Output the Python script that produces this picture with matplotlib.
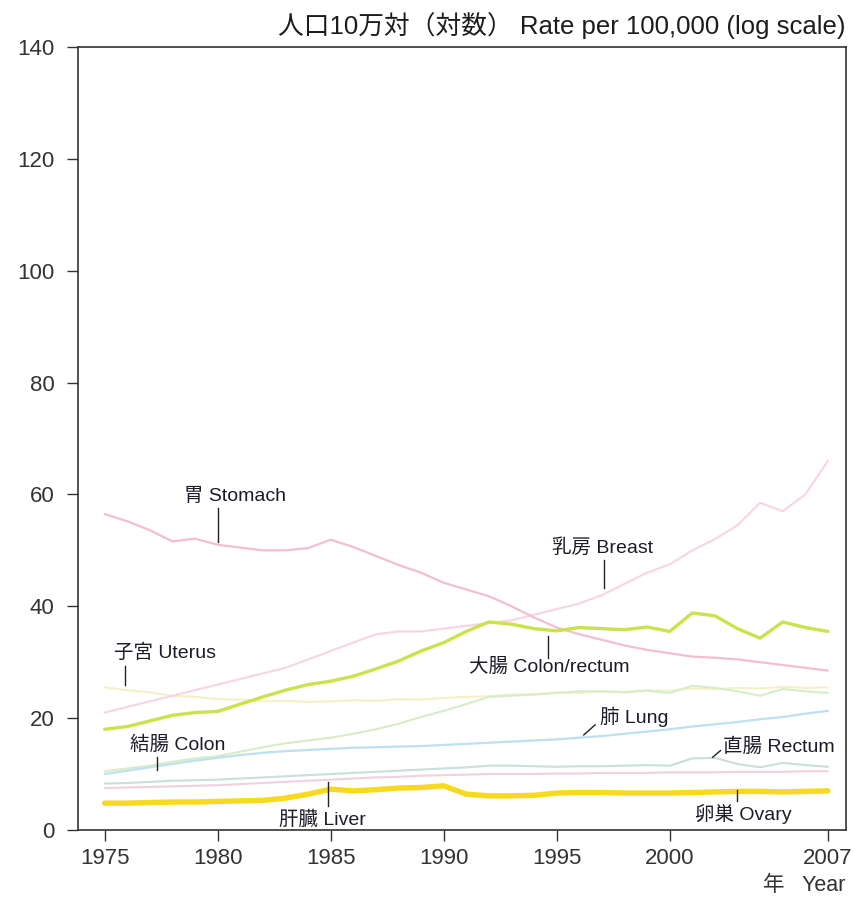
import matplotlib
matplotlib.use("Agg")
import matplotlib.pyplot as plt

plt.rcParams['font.family'] = ['Liberation Sans', 'Noto Sans CJK JP', 'DejaVu Sans']

years = list(range(1975, 2008))

stomach = [56.5, 55.2, 53.6, 51.6, 52.1, 51.0, 50.5, 50.0, 50.0, 50.4, 51.9, 50.6, 49.0,
           47.4, 46.0, 44.2, 43.0, 41.8, 40.0, 38.0, 36.2, 35.0, 34.0, 33.0, 32.2, 31.6,
           31.0, 30.8, 30.5, 30.0, 29.5, 29.0, 28.5]
breast = [21.0, 22.0, 23.0, 24.0, 25.0, 26.0, 27.0, 28.0, 29.0, 30.5, 32.0, 33.5, 35.0,
          35.5, 35.5, 36.0, 36.5, 37.0, 37.5, 38.5, 39.5, 40.5, 42.0, 44.0, 46.0, 47.5,
          50.0, 52.0, 54.5, 58.5, 57.0, 60.0, 66.0]
colorectum = [18.0, 18.5, 19.5, 20.5, 21.0, 21.2, 22.5, 23.8, 25.0, 26.0, 26.6, 27.5, 28.8,
              30.2, 32.0, 33.5, 35.5, 37.2, 36.8, 36.0, 35.6, 36.2, 36.0, 35.8, 36.3, 35.5,
              38.8, 38.3, 36.0, 34.3, 37.2, 36.2, 35.5]
uterus = [25.5, 25.0, 24.6, 24.0, 23.8, 23.4, 23.3, 23.0, 23.1, 22.9, 23.0, 23.2, 23.1,
          23.4, 23.3, 23.6, 23.8, 23.9, 24.2, 24.3, 24.6, 24.5, 24.8, 24.7, 25.0, 24.9,
          25.3, 25.2, 25.4, 25.3, 25.6, 25.4, 25.5]
colon = [10.5, 11.0, 11.5, 12.2, 12.8, 13.2, 14.0, 14.8, 15.5, 16.0, 16.5, 17.2, 18.0,
         19.0, 20.2, 21.3, 22.5, 23.8, 24.0, 24.2, 24.5, 24.8, 24.8, 24.6, 24.9, 24.5,
         25.8, 25.4, 24.8, 24.0, 25.2, 24.8, 24.5]
lung = [10.0, 10.6, 11.2, 11.8, 12.4, 12.9, 13.4, 13.8, 14.1, 14.3, 14.5, 14.7, 14.8,
        14.9, 15.0, 15.2, 15.4, 15.6, 15.8, 16.0, 16.2, 16.5, 16.8, 17.2, 17.6, 18.0,
        18.5, 18.9, 19.3, 19.8, 20.2, 20.8, 21.3]
rectum = [8.3, 8.4, 8.6, 8.8, 8.9, 9.0, 9.2, 9.4, 9.6, 9.8, 10.0, 10.2, 10.4, 10.6, 10.8,
          11.0, 11.2, 11.5, 11.5, 11.4, 11.3, 11.4, 11.4, 11.5, 11.6, 11.5, 12.8, 12.9,
          11.8, 11.2, 12.0, 11.6, 11.3]
ovary = [7.5, 7.6, 7.7, 7.8, 7.9, 8.0, 8.2, 8.4, 8.6, 8.8, 9.0, 9.2, 9.4, 9.5, 9.7, 9.8,
         9.9, 10.0, 10.0, 10.0, 10.1, 10.1, 10.2, 10.2, 10.2, 10.3, 10.3, 10.3, 10.4,
         10.4, 10.4, 10.5, 10.5]
liver = [4.8, 4.8, 4.9, 5.0, 5.0, 5.1, 5.2, 5.3, 5.7, 6.4, 7.3, 7.0, 7.2, 7.5, 7.6, 7.9,
         6.4, 6.1, 6.1, 6.2, 6.6, 6.7, 6.7, 6.6, 6.6, 6.6, 6.7, 6.8, 6.9, 6.9, 6.8, 6.9, 7.0]

xtick_years = [1975, 1980, 1985, 1990, 1995, 2000, 2007]
yticks = [0, 20, 40, 60, 80, 100, 120, 140]

title_text = "人口10万対（対数） Rate per 100,000 (log scale)"
xlabel_text = "年   Year"

series = [
    (uterus, '#f5f1c4', 1.5),
    (breast, '#f8d4e4', 1.5),
    (stomach, '#f2bed2', 1.6),
    (colon, '#d6edc8', 1.5),
    (lung, '#bde0f2', 1.6),
    (rectum, '#c8dfda', 1.5),
    (ovary, '#f3cfe2', 1.5),
    (colorectum, '#cbe24a', 2.4),
    (liver, '#f7da1e', 3.9),
]

# label text, text anchor (year, value), pointer start, pointer end
labels = [
    ("胃 Stomach", (1978.5, 59.6), (1980.0, 57.6), (1980.0, 51.5)),
    ("乳房 Breast", (1994.8, 50.4), (1997.1, 48.2), (1997.1, 43.2)),
    ("大腸 Colon/rectum", (1991.1, 29.1), (1994.6, 34.6), (1994.6, 30.8)),
    ("子宮 Uterus", (1975.4, 31.6), (1975.9, 29.4), (1975.9, 26.0)),
    ("結腸 Colon", (1976.1, 15.3), (1977.3, 13.0), (1977.3, 10.8)),
    ("肝臓 Liver", (1982.7, 1.9), (1984.9, 8.6), (1984.9, 4.2)),
    ("肺 Lung", (1996.9, 20.3), (1996.2, 17.0), (1996.7, 18.8)),
    ("直腸 Rectum", (2002.35, 14.9), (2001.9, 13.0), (2002.25, 14.2)),
    ("卵巣 Ovary", (2001.1, 2.8), (2003.0, 7.2), (2003.0, 5.2)),
]

fig = plt.figure(figsize=(8.54, 9.05), dpi=100)
ax = fig.add_axes([0.0913, 0.0829, 0.8993, 0.8651])

for vals, col, lw in series:
    ax.plot(years, vals, color=col, lw=lw, solid_capstyle='round', zorder=2)

for txt, pos, p0, p1 in labels:
    ax.text(pos[0], pos[1], txt, fontsize=14, color='#1c1c28', ha='left', va='center', zorder=4)
    ax.plot([p0[0], p1[0]], [p0[1], p1[1]], color='#222222', lw=1.0, zorder=3)

ax.set_xlim(1973.82, 2007.8)
ax.set_ylim(0, 140)
ax.set_xticks(xtick_years)
ax.set_xticklabels([str(y) for y in xtick_years])
ax.set_yticks(yticks)
ax.tick_params(axis='both', direction='out', length=8, width=1.0, labelsize=16,
               colors='#333333')
ax.tick_params(axis='x', pad=5)
ax.tick_params(axis='y', pad=9)
for sp in ax.spines.values():
    sp.set_color('#333333')
    sp.set_linewidth(1.2)

fig.text(0.990, 0.972, title_text, ha='right', va='center', fontsize=18.5, color='#1c1c1c')
fig.text(0.990, 0.021, xlabel_text, ha='right', va='center', fontsize=15.5, color='#333333')

fig.savefig("out.png", dpi=100)
